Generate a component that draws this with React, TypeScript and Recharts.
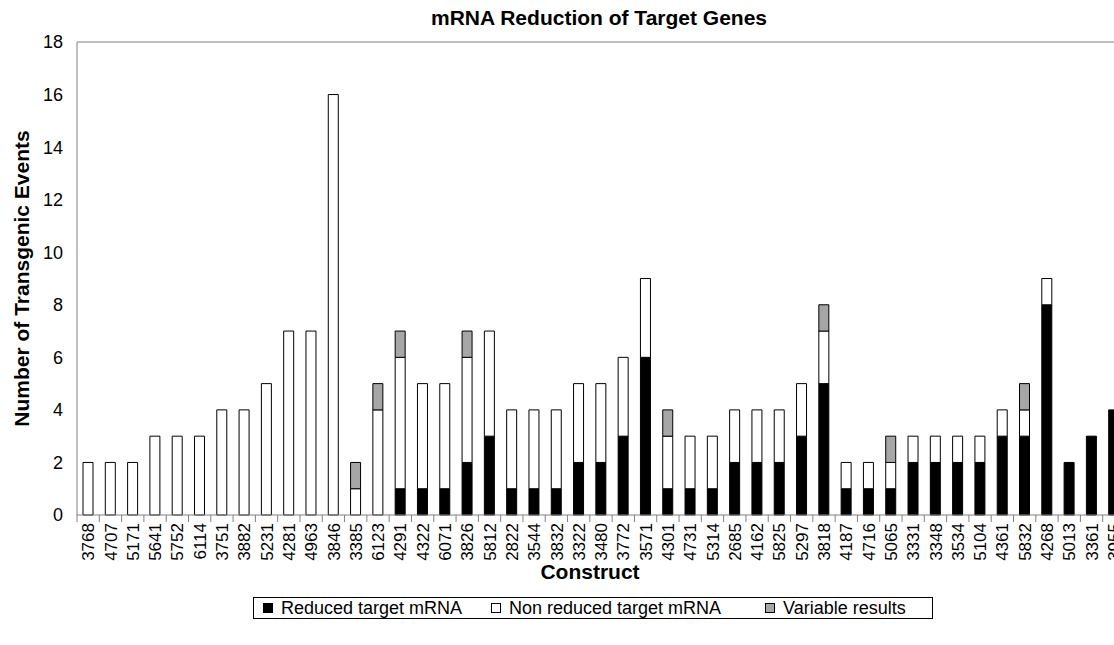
import { BarChart, Bar, XAxis, YAxis, Legend, Label, ReferenceLine } from "recharts";

// ---------------------------------------------------------------------------
// Data
// ---------------------------------------------------------------------------

const constructs = [
  "3768", "4707", "5171", "5641", "5752", "6114", "3751", "3882", "5231", "4281",
  "4963", "3846", "3385", "6123", "4291", "4322", "6071", "3826", "5812", "2822",
  "3544", "3832", "3322", "3480", "3772", "3571", "4301", "4731", "5314", "2685",
  "4162", "5825", "5297", "3818", "4187", "4716", "5065", "3331", "3348", "3534",
  "5104", "4361", "5832", "4268", "5013", "3361", "3955",
];

const reduced = [
  0, 0, 0, 0, 0, 0, 0, 0, 0, 0,
  0, 0, 0, 0, 1, 1, 1, 2, 3, 1,
  1, 1, 2, 2, 3, 6, 1, 1, 1, 2,
  2, 2, 3, 5, 1, 1, 1, 2, 2, 2,
  2, 3, 3, 8, 2, 3, 4,
];

const nonReduced = [
  2, 2, 2, 3, 3, 3, 4, 4, 5, 7,
  7, 16, 1, 4, 5, 4, 4, 4, 4, 3,
  3, 3, 3, 3, 3, 3, 2, 2, 2, 2,
  2, 2, 2, 2, 1, 1, 1, 1, 1, 1,
  1, 1, 1, 1, 0, 0, 0,
];

const variable = [
  0, 0, 0, 0, 0, 0, 0, 0, 0, 0,
  0, 0, 1, 1, 1, 0, 0, 1, 0, 0,
  0, 0, 0, 0, 0, 0, 1, 0, 0, 0,
  0, 0, 0, 1, 0, 0, 1, 0, 0, 0,
  0, 0, 1, 0, 0, 0, 0,
];

const yTicks = [0, 2, 4, 6, 8, 10, 12, 14, 16, 18];

const seriesKeys = ["reduced", "nonReduced", "variable"];
const seriesNames = ["Reduced target mRNA", "Non reduced target mRNA", "Variable results"];
const seriesFills = ["#000000", "#ffffff", "#a6a6a6"];

const data = constructs.map((construct, i) => ({
  construct,
  reduced: reduced[i],
  nonReduced: nonReduced[i],
  variable: variable[i],
}));

// ---------------------------------------------------------------------------
// Layout
// ---------------------------------------------------------------------------

const FONT = '"Liberation Sans", Arial, sans-serif';
const CHART_W = 1140;
const CHART_H = 680;
const MARGIN = { top: 42, right: 15, left: 0, bottom: 0 };
const Y_AXIS_W = 77;
const X_AXIS_H = 165;
const STEP = (CHART_W - MARGIN.right - MARGIN.left - Y_AXIS_W) / constructs.length;
const AXIS_GREY = "#808080";
const LEGEND_ITEM_W = [228, 274, 165];

// ---------------------------------------------------------------------------
// Custom pieces
// ---------------------------------------------------------------------------

function ConstructTick({ x, y, payload }: { x?: number; y?: number; payload?: { value: string } }) {
  if (x == null || y == null || !payload) return null;
  const ty = y + 8;
  return (
    <g>
      <line x1={x - STEP / 2} x2={x - STEP / 2} y1={y} y2={y + 7} stroke={AXIS_GREY} />
      <text
        x={x}
        y={ty}
        dy="0.36em"
        textAnchor="end"
        transform={`rotate(-90 ${x} ${ty})`}
        fill="#000"
        fontSize={17}
        fontFamily={FONT}
      >
        {payload.value}
      </text>
    </g>
  );
}

function YTitle(props: any) {
  const vb = props.viewBox || { x: 0, y: 0, height: 0 };
  const cx = 21;
  const cy = vb.y + vb.height / 2;
  return (
    <text
      x={cx}
      y={cy}
      dy="0.36em"
      textAnchor="middle"
      transform={`rotate(-90 ${cx} ${cy})`}
      fontSize={21}
      fontWeight="bold"
      fontFamily={FONT}
      fill="#000"
    >
      Number of Transgenic Events
    </text>
  );
}

function XTitle(props: any) {
  const vb = props.viewBox || { x: 0, y: 0 };
  return (
    <text
      x={vb.x + 513}
      y={vb.y + 56}
      dy="0.36em"
      textAnchor="middle"
      fontSize={21}
      fontWeight="bold"
      fontFamily={FONT}
      fill="#000"
    >
      Construct
    </text>
  );
}

function LegendBox() {
  return (
    <div
      style={{
        border: "1px solid #000",
        height: 22,
        display: "flex",
        alignItems: "center",
        paddingLeft: 9,
        fontFamily: FONT,
        fontSize: 18,
        lineHeight: "20px",
        color: "#000",
        boxSizing: "border-box",
        whiteSpace: "nowrap",
        background: "#fff",
      }}
    >
      {seriesNames.map((name, i) => (
        <span
          key={name}
          style={{ display: "flex", alignItems: "center", width: LEGEND_ITEM_W[i] }}
        >
          <span
            style={{
              display: "inline-block",
              width: 10,
              height: 10,
              border: "1px solid #000",
              background: seriesFills[i],
              marginRight: 8,
              boxSizing: "border-box",
            }}
          />
          {name}
        </span>
      ))}
    </div>
  );
}

// ---------------------------------------------------------------------------
// Component
// ---------------------------------------------------------------------------

export default function App() {
  return (
    <div
      style={{
        position: "absolute",
        left: 0,
        top: 0,
        width: 1114,
        height: 645,
        overflow: "hidden",
        background: "#fff",
      }}
    >
      <div
        style={{
          position: "absolute",
          left: 299,
          top: 5,
          width: 600,
          textAlign: "center",
          fontFamily: FONT,
          fontWeight: "bold",
          fontSize: 21,
          lineHeight: "26px",
          color: "#000",
          zIndex: 2,
        }}
      >
        mRNA Reduction of Target Genes
      </div>
      <BarChart width={CHART_W} height={CHART_H} data={data} margin={MARGIN} barSize={10}>
        <XAxis
          dataKey="construct"
          height={X_AXIS_H}
          interval={0}
          tickLine={false}
          tickSize={0}
          tickMargin={0}
          axisLine={{ stroke: AXIS_GREY }}
          tick={<ConstructTick />}
        >
          <Label content={<XTitle />} />
        </XAxis>
        <YAxis
          width={Y_AXIS_W}
          domain={[0, 18]}
          ticks={yTicks}
          interval={0}
          tickLine={false}
          tickSize={0}
          tickMargin={14}
          axisLine={{ stroke: AXIS_GREY }}
          tick={{ fill: "#000", fontSize: 18, fontFamily: FONT }}
        >
          <Label content={<YTitle />} />
        </YAxis>
        <ReferenceLine y={18} stroke={AXIS_GREY} />
        <Legend
          layout="horizontal"
          verticalAlign="middle"
          align="center"
          wrapperStyle={{ top: 597, left: 253, width: 680 }}
          content={<LegendBox />}
        />
        {seriesKeys.map((key, i) => (
          <Bar
            key={key}
            dataKey={key}
            name={seriesNames[i]}
            stackId="s"
            fill={seriesFills[i]}
            stroke="#000"
            strokeWidth={1}
            isAnimationActive={false}
          />
        ))}
      </BarChart>
    </div>
  );
}
